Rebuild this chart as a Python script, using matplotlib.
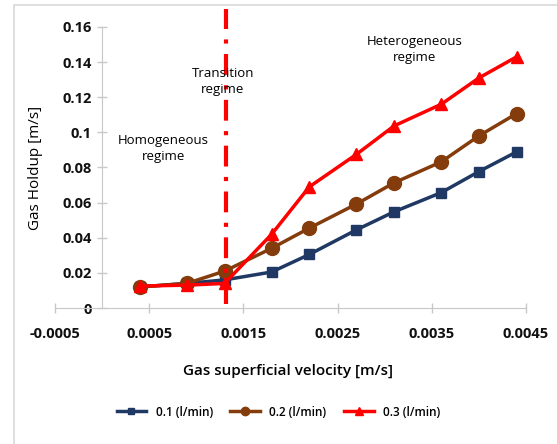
import matplotlib.pyplot as plt
from matplotlib.patches import Rectangle

# data
velocity = [0.0004, 0.0009, 0.0013, 0.0018, 0.0022, 0.0027, 0.0031, 0.0036, 0.0040, 0.0044]
holdup_01 = [0.012, 0.014, 0.016, 0.0205, 0.0305, 0.0445, 0.0548, 0.0657, 0.0777, 0.0889]
holdup_02 = [0.012, 0.014, 0.021, 0.034, 0.0455, 0.0592, 0.0713, 0.0832, 0.098, 0.1107]
holdup_03 = [0.0125, 0.013, 0.014, 0.042, 0.069, 0.0875, 0.1037, 0.116, 0.131, 0.143]
labels = ["0.1 (l/min)", "0.2 (l/min)", "0.3 (l/min)"]
x_ticks = [-0.0005, 0.0005, 0.0015, 0.0025, 0.0035, 0.0045]
y_ticks = [0, 0.02, 0.04, 0.06, 0.08, 0.1, 0.12, 0.14, 0.16]
y_ticklabels = ["0", "0.02", "0.04", "0.06", "0.08", "0.1", "0.12", "0.14", "0.16"]
transition_x = 0.00131

plt.rcParams["font.family"] = ["Open Sans", "DejaVu Sans"]

fig = plt.figure(figsize=(5.57, 4.44), dpi=100)
fig.patches.append(Rectangle((14 / 557, -0.1), 1.2, 1.1 - 5 / 444, transform=fig.transFigure,
                             fill=False, edgecolor="#d9d9d9", linewidth=1.2))
ax = fig.add_axes([55 / 557, (444 - 308) / 444, 471 / 557, 281 / 444])

ax.plot(velocity, holdup_01, color="#1f3864", lw=2.5, marker="s", ms=7, label=labels[0])
ax.plot(velocity, holdup_02, color="#843c0c", lw=2.5, marker="o", ms=10, label=labels[1])
ax.plot(velocity, holdup_03, color="#ff0000", lw=2.5, marker="^", ms=9, label=labels[2])

ax.plot([transition_x, transition_x], [0.0025, 0.170], color="#ff0000", lw=3,
        linestyle=(0, (5, 2.5, 1, 2.5)), clip_on=False)

ax.set_xlim(-0.0005, 0.0045)
ax.set_ylim(0, 0.16)
ax.set_xticks(x_ticks)
ax.set_xticklabels([f"{t:.4f}" for t in x_ticks])
ax.set_yticks(y_ticks)
ax.set_yticklabels(y_ticklabels)

for s in ["top", "right"]:
    ax.spines[s].set_visible(False)
ax.spines["left"].set_position(("data", 0))
ax.spines["left"].set_color("#c8c8c8")
ax.spines["bottom"].set_color("#c8c8c8")
ax.tick_params(axis="both", direction="inout", length=7, color="#c8c8c8", width=1)
ax.tick_params(axis="x", pad=10)
ax.tick_params(axis="y", pad=4)
for t in ax.get_xticklabels() + ax.get_yticklabels():
    t.set_fontweight("bold")
    t.set_fontsize(10.5)
    t.set_color("#111111")
for t in ax.get_yticklabels():
    t.set_bbox(dict(facecolor="white", edgecolor="none", pad=0))

ax.set_ylabel("Gas Holdup [m/s]", fontsize=11)
ax.yaxis.set_label_coords(-0.025, 0.5)
ax.set_xlabel("Gas superficial velocity [m/s]", fontsize=11, fontweight="semibold")
ax.xaxis.set_label_coords(0.495, -0.2)

ax.text(0.00065, 0.091, "Homogeneous\nregime", ha="center", va="center", fontsize=9.5, linespacing=1.3)
ax.text(0.00128, 0.129, "Transition\nregime", ha="center", va="center", fontsize=9.5, linespacing=1.3)
ax.text(0.00332, 0.147, "Heterogeneous\nregime", ha="center", va="center", fontsize=9.5, linespacing=1.3)

fig.legend(loc="center", bbox_to_anchor=(0.5, (444 - 412) / 444), ncol=3, frameon=False,
           prop={"size": 8.5, "weight": "semibold"}, markerscale=0.6, handlelength=2.5,
           columnspacing=1.5)

fig.savefig("out.png", dpi=100)
